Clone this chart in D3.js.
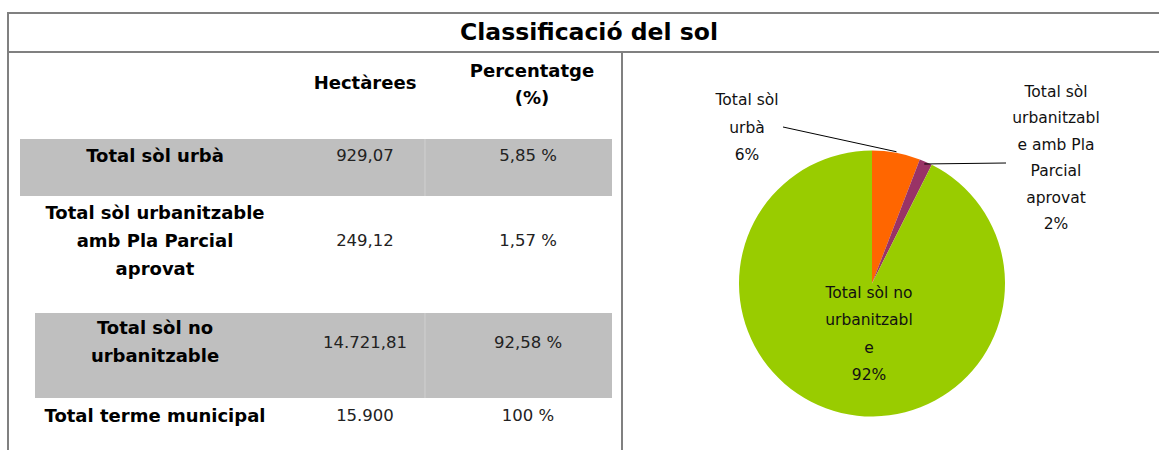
<!DOCTYPE html>
<html>
<head>
<meta charset="utf-8">
<script src="https://cdn.jsdelivr.net/npm/d3@7"></script>
<style>
  body { margin: 0; background: #fff; }
  svg text { font-family: "Century Gothic", "DejaVu Sans", sans-serif; fill: #000; }
  .title { font-size: 23.5px; font-weight: bold; }
  .head { font-size: 18px; font-weight: bold; }
  .rowname { font-size: 18px; font-weight: bold; }
  .val { font-size: 16.5px; fill: #222; }
  .plabel { font-size: 15.5px; fill: #111; }
</style>
</head>
<body>
<div id="chart"></div>
<script>
// DATA
var title = "Classificació del sol";
var columns = ["", "Hectàrees", "Percentatge (%)"];
var categories = ["Total sòl urbà", "Total sòl urbanitzable amb Pla Parcial aprovat", "Total sòl no urbanitzable"];
var hectares = ["929,07", "249,12", "14.721,81"];
var percents = [5.85, 1.57, 92.58];
var percentText = ["5,85 %", "1,57 %", "92,58 %"];
var totalRow = ["Total terme municipal", "15.900", "100 %"];
var pieLabels = [["Total sòl", "urbà"], ["Total sòl", "urbanitzabl", "e amb Pla", "Parcial", "aprovat"], ["Total sòl no", "urbanitzabl", "e"]];
var piePct = ["6%", "2%", "92%"];
var colors = ["#ff6600", "#993366", "#99cc00"];

var W = 1159, H = 450;
var svg = d3.select("#chart").append("svg")
  .attr("width", W).attr("height", H);

// frame
var border = "#808080";
svg.append("line").attr("x1", 8).attr("x2", W).attr("y1", 13).attr("y2", 13)
  .attr("stroke", border).attr("stroke-width", 2);
svg.append("line").attr("x1", 8).attr("x2", W).attr("y1", 52).attr("y2", 52)
  .attr("stroke", border).attr("stroke-width", 2);
svg.append("line").attr("x1", 8).attr("x2", 8).attr("y1", 12).attr("y2", H)
  .attr("stroke", border).attr("stroke-width", 2);
svg.append("line").attr("x1", 622).attr("x2", 622).attr("y1", 52).attr("y2", H)
  .attr("stroke", border).attr("stroke-width", 2);

svg.append("text").attr("class", "title")
  .attr("x", 589).attr("y", 32)
  .attr("text-anchor", "middle").attr("dominant-baseline", "central")
  .text(title);

// TABLE
var colX = d3.scaleOrdinal().domain([0, 1, 2]).range([155, 365, 528]);
var colEdges = [20, 290, 425, 612];

// row layout: band top/bottom and text line centers
var rows = [
  { band: [139, 196], bandX: 20, lines: [155], valY: 155 },
  { band: null, lines: [212, 240, 268], valY: 240 },
  { band: [313, 398], bandX: 35, lines: [327, 355], valY: 342 },
  { band: null, lines: [415], valY: 415 }
];

function wrapName(s, i) {
  if (i === 1) return ["Total sòl urbanitzable", "amb Pla Parcial", "aprovat"];
  if (i === 2) return ["Total sòl no", "urbanitzable"];
  return [s];
}

var tableData = categories.map(function(c, i) {
  return { name: wrapName(c, i), ha: hectares[i], pct: percentText[i] };
});
tableData.push({ name: [totalRow[0]], ha: totalRow[1], pct: totalRow[2] });

var g = svg.append("g");

rows.forEach(function(r, i) {
  if (!r.band) return;
  g.append("rect")
    .attr("x", r.bandX).attr("y", r.band[0])
    .attr("width", colEdges[3] - r.bandX).attr("height", r.band[1] - r.band[0])
    .attr("fill", "#bfbfbf");
  g.append("line")
    .attr("x1", colEdges[2]).attr("x2", colEdges[2])
    .attr("y1", r.band[0]).attr("y2", r.band[1])
    .attr("stroke", "#d0d0d0").attr("stroke-width", 1);
});

// header
g.append("text").attr("class", "head")
  .attr("x", colX(1)).attr("y", 82)
  .attr("text-anchor", "middle").attr("dominant-baseline", "central")
  .text(columns[1]);
g.append("text").attr("class", "head")
  .attr("x", colX(2) + 4).attr("y", 70)
  .attr("text-anchor", "middle").attr("dominant-baseline", "central")
  .text("Percentatge");
g.append("text").attr("class", "head")
  .attr("x", colX(2) + 4).attr("y", 97)
  .attr("text-anchor", "middle").attr("dominant-baseline", "central")
  .text("(%)");

tableData.forEach(function(d, i) {
  var r = rows[i];
  d.name.forEach(function(line, j) {
    g.append("text").attr("class", "rowname")
      .attr("x", colX(0)).attr("y", r.lines[j])
      .attr("text-anchor", "middle").attr("dominant-baseline", "central")
      .text(line);
  });
  g.append("text").attr("class", "val")
    .attr("x", colX(1)).attr("y", r.valY)
    .attr("text-anchor", "middle").attr("dominant-baseline", "central")
    .text(d.ha);
  g.append("text").attr("class", "val")
    .attr("x", colX(2)).attr("y", r.valY)
    .attr("text-anchor", "middle").attr("dominant-baseline", "central")
    .text(d.pct);
});

// PIE
var cx = 872, cy = 283.5, radius = 133;
var pie = d3.pie().sort(null).value(function(d) { return d; });
var arc = d3.arc().innerRadius(0).outerRadius(radius);
var arcs = pie(percents);

var pg = svg.append("g").attr("transform", "translate(" + cx + "," + cy + ")");
pg.selectAll("path.slice")
  .data(arcs)
  .enter().append("path")
  .attr("class", "slice")
  .attr("d", arc)
  .attr("fill", function(d, i) { return colors[i]; });

// leader lines: from slice edge point out to label
var edgeArc = d3.arc().innerRadius(radius + 1).outerRadius(radius + 1);
var c0 = edgeArc.centroid(arcs[0]);
var c1 = edgeArc.centroid(arcs[1]);
svg.append("polyline")
  .attr("points", [[cx + c0[0], cy + c0[1]], [783, 127]].join(" "))
  .attr("fill", "none").attr("stroke", "#000").attr("stroke-width", 1);
svg.append("polyline")
  .attr("points", [[cx + c1[0] - 2, cy + c1[1] + 3], [1006, 163]].join(" "))
  .attr("fill", "none").attr("stroke", "#000").attr("stroke-width", 1);

var labelPos = [
  { x: 747, y: 100, dy: 27.5 },
  { x: 1056, y: 92, dy: 26.4 },
  { x: 869, y: 293, dy: 27.3 }
];
labelPos.forEach(function(p, i) {
  var lines = pieLabels[i].concat([piePct[i]]);
  lines.forEach(function(t, j) {
    svg.append("text").attr("class", "plabel")
      .attr("x", p.x).attr("y", p.y + j * p.dy)
      .attr("text-anchor", "middle").attr("dominant-baseline", "central")
      .text(t);
  });
});
</script>
</body>
</html>
